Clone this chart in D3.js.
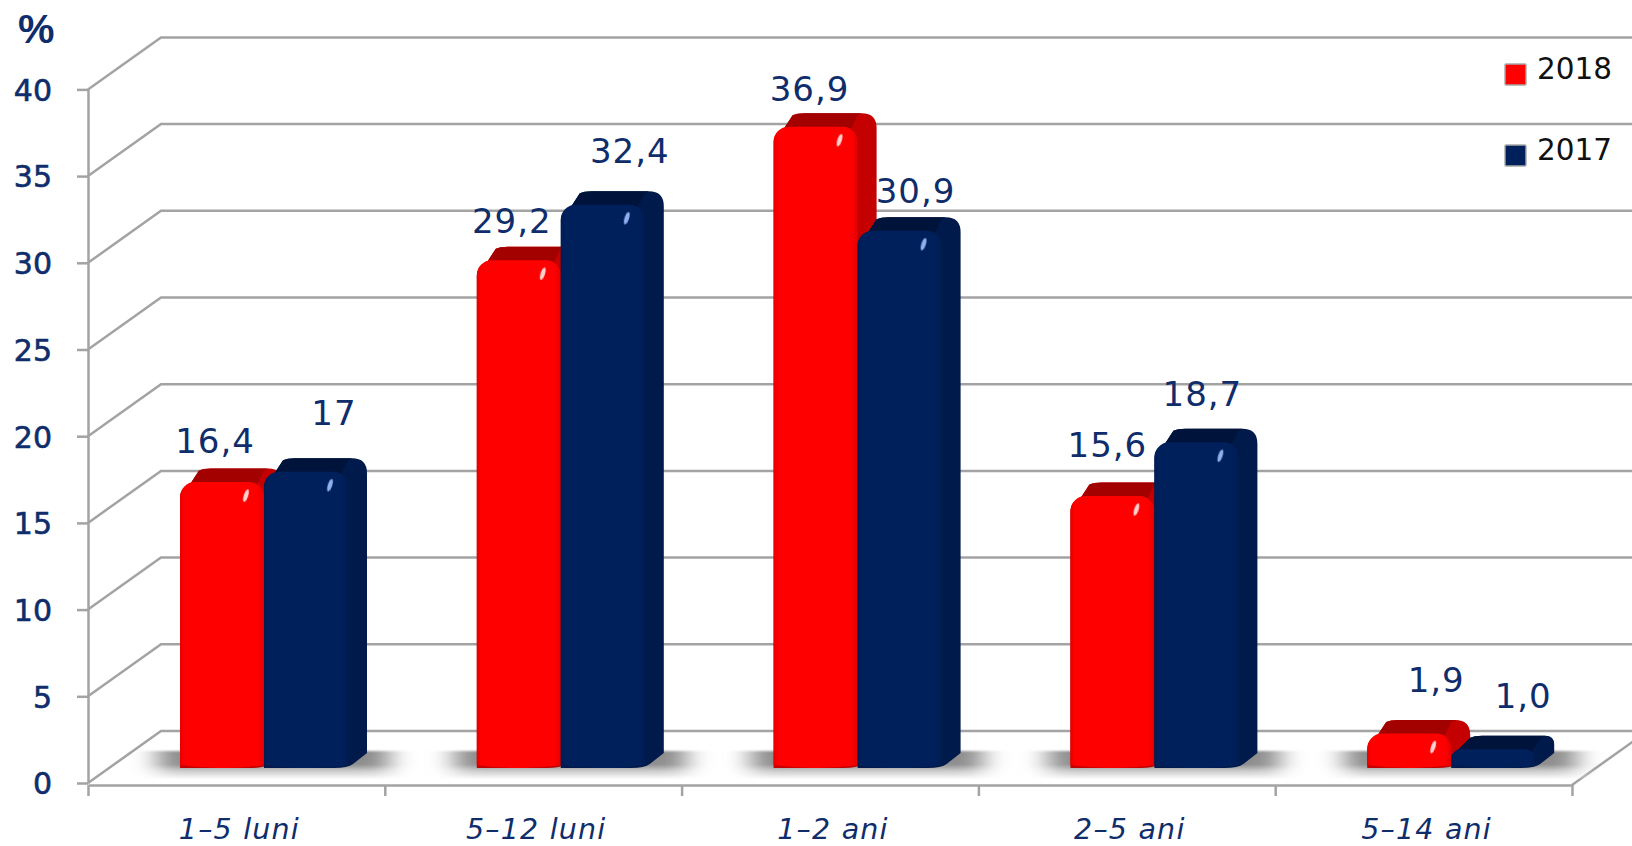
<!DOCTYPE html>
<html>
<head>
<meta charset="utf-8">
<script src="https://d3js.org/d3.v7.min.js"></script>
<style>
html, body { margin: 0; padding: 0; background: #fff; overflow: hidden; }
text { font-family: "DejaVu Sans", sans-serif; }
</style>
</head>
<body>
<script>
var categories = ["1–5 luni", "5–12 luni", "1–2 ani", "2–5 ani", "5–14 ani"];
var series = ["2018", "2017"];
var values2018 = [16.4, 29.2, 36.9, 15.6, 1.9];
var values2017 = [17, 32.4, 30.9, 18.7, 1.0];
var labels2018 = ["16,4", "29,2", "36,9", "15,6", "1,9"];
var labels2017 = ["17", "32,4", "30,9", "18,7", "1,0"];
var yTicks = [0, 5, 10, 15, 20, 25, 30, 35, 40];

// hand placed labels in the original, offset from the bar's back top edge
var nudge2018 = [[-7, -16], [-7, -14], [-6, -12], [-5, -25], [27, -28]];
var nudge2017 = [[28, -33], [27, -28], [16, -14], [6, -23], [30, -28]];

var w = 1632;
var h = 846;
var navy = "#0f2d6b";
var gridColor = "#a3a3a3";
var wallX = 73, wallY = 52;      // depth of the box
var barDX = 19, barDY = 15;      // depth of a bar
var liftY = 15;                  // bars stand this far into the floor

var colors = {
  "2018": { front: "#ff0000", edge: "#e40000", side: "#c40000", top: "#a30000", shine: "#ffd0d0" },
  "2017": { front: "#00205c", edge: "#001c52", side: "#001a4c", top: "#00133b", shine: "#8fb0ee" }
};

var svg = d3.select("body").append("svg")
    .attr("width", w)
    .attr("height", h)
    .style("display", "block");

var defs = svg.append("defs");
defs.append("filter").attr("id", "blur")
    .attr("x", "-30%").attr("y", "-30%").attr("width", "160%").attr("height", "160%")
  .append("feGaussianBlur").attr("stdDeviation", "13 1.2");
defs.append("filter").attr("id", "soft")
    .attr("x", "-100%").attr("y", "-50%").attr("width", "300%").attr("height", "200%")
  .append("feGaussianBlur").attr("stdDeviation", "0.6");

var shadowGrad = defs.append("linearGradient").attr("id", "shadow")
    .attr("x1", 0).attr("y1", 0).attr("x2", 0).attr("y2", 1);
shadowGrad.selectAll("stop")
    .data([[0, "#8a8a8a"], [0.5, "#8f8f8f"], [0.72, "#c8c8c8"], [1, "#f6f6f6"]])
    .enter().append("stop")
    .attr("offset", function(d) { return d[0]; })
    .attr("stop-color", function(d) { return d[1]; });

series.forEach(function(key) {
  var g = defs.append("linearGradient").attr("id", "front" + key);
  g.selectAll("stop")
      .data([[0, colors[key].edge], [0.05, colors[key].front], [0.92, colors[key].front], [1, colors[key].edge]])
      .enter().append("stop")
      .attr("offset", function(d) { return d[0]; })
      .attr("stop-color", function(d) { return d[1]; });
});

var y = d3.scaleLinear().domain([0, 40]).range([783, 89.4]);
var x0 = d3.scaleBand().domain(categories).range([88, 1572]);
var x1 = d3.scaleBand().domain(series).range([92, 260]);
var edges = d3.scaleLinear().domain([0, categories.length]).range([88, 1572]);

// walls
var grid = svg.append("g")
    .attr("fill", "none")
    .attr("stroke", gridColor)
    .attr("stroke-width", 2.5);

grid.selectAll("path.wall")
    .data(yTicks)
    .enter()
    .append("path")
    .attr("class", "wall")
    .attr("d", function(d) {
      return "M" + 88 + "," + y(d) + "L" + (88 + wallX) + "," + (y(d) - wallY) + "L" + w + "," + (y(d) - wallY);
    });

grid.append("path")
    .attr("d", "M" + edges(5) + "," + (y(0) + 2) + "L" + (edges(5) + wallX) + "," + (y(0) + 2 - wallY));

// axes
var yAxis = svg.append("g")
    .attr("transform", "translate(88,0)")
    .call(d3.axisLeft(y).tickValues(yTicks).tickSizeInner(11).tickSizeOuter(0).tickPadding(25));
yAxis.selectAll("line").attr("stroke", gridColor).attr("stroke-width", 2.5);
yAxis.select(".domain").attr("stroke", gridColor).attr("stroke-width", 2.5);
yAxis.selectAll("text")
    .attr("fill", navy)
    .attr("stroke", navy)
    .attr("stroke-width", 0.6)
    .attr("dy", ".36em")
    .attr("font-size", 30)
    .style("font-family", '"DejaVu Sans", sans-serif');

var xAxis = svg.append("g")
    .attr("transform", "translate(0," + (y(0) + 2) + ")")
    .call(d3.axisBottom(edges).tickValues(d3.range(0, categories.length + 1)).tickSizeInner(11).tickSizeOuter(0).tickFormat(""));
xAxis.selectAll("line").attr("stroke", gridColor).attr("stroke-width", 2.5);
xAxis.select(".domain").attr("stroke", gridColor).attr("stroke-width", 2.5);

svg.selectAll("text.cat")
    .data(categories)
    .enter()
    .append("text")
    .attr("class", "cat")
    .text(function(d) { return d; })
    .attr("x", function(d) { return x0(d) + x0.bandwidth() / 2 + 3; })
    .attr("y", 839)
    .attr("text-anchor", "middle")
    .attr("font-size", 28.5)
    .attr("letter-spacing", 1.2)
    .attr("font-style", "italic")
    .attr("fill", navy);

svg.append("text")
    .text("%")
    .attr("x", 18)
    .attr("y", 43)
    .attr("font-size", 41)
    .attr("font-weight", "bold")
    .attr("fill", navy)
    .style("font-family", '"Liberation Sans", sans-serif');

// floor shadows
svg.selectAll("rect.shadow")
    .data(categories)
    .enter()
    .append("rect")
    .attr("class", "shadow")
    .attr("x", function(d) { return x0(d) + x1.range()[0] - 22; })
    .attr("y", y(0) - 32)
    .attr("width", x1.range()[1] - x1.range()[0] + barDX + 44)
    .attr("height", 27)
    .attr("fill", "url(#shadow)")
    .attr("filter", "url(#blur)");

// one rounded 3d bar
function drawBar(g, key, v, cat, label, nudge) {
  var c = colors[key];
  var bw = x1.bandwidth();
  var left = x0(cat) + x1(key);
  var right = left + bw;
  var base = y(0) - liftY;
  var top = y(v) - liftY;
  var r = Math.min(15, (base - top) * 0.55);
  var rb = Math.min(15, (base - top) * 0.5);
  var frontTop = top - 1.5;
  var arc = "A" + r + "," + r + " 0 0 1 ";

  var outline = "M" + left + "," + (frontTop + r)
      + arc + (left + r * 0.7) + "," + (frontTop + r * 0.1)
      + "L" + (left + barDX) + "," + (top - barDY + 2)
      + "Q" + (left + barDX + 4) + "," + (top - barDY) + " " + (left + barDX + 12) + "," + (top - barDY)
      + "L" + (right + barDX - rb) + "," + (top - barDY)
      + "Q" + (right + barDX) + "," + (top - barDY) + " " + (right + barDX) + "," + (top - barDY + rb)
      + "L" + (right + barDX) + "," + (base - barDY)
      + "L" + (right + 5) + "," + (base - 4)
      + "Q" + right + "," + base + " " + (right - 14) + "," + base
      + "L" + left + "," + base + "Z";
  g.append("path").attr("d", outline).attr("fill", c.side);

  var topFace = "M" + (left + r * 0.7) + "," + (frontTop + r * 0.1)
      + "L" + (left + barDX) + "," + (top - barDY + 2)
      + "Q" + (left + barDX + 4) + "," + (top - barDY) + " " + (left + barDX + 12) + "," + (top - barDY)
      + "L" + (right + barDX - rb) + "," + (top - barDY)
      + "L" + (right + barDX - rb - 4) + "," + (top - barDY + 2)
      + "L" + (right - r * 0.5) + "," + (top + 2)
      + "Z";
  g.append("path").attr("d", topFace).attr("fill", c.top);

  var front = "M" + left + "," + (base - 3)
      + "L" + left + "," + (frontTop + r)
      + arc + (left + r) + "," + frontTop
      + "L" + (right - r) + "," + frontTop
      + arc + right + "," + (frontTop + r)
      + "L" + right + "," + (base - 3)
      + "Q" + (left + bw * 0.5) + "," + (base + 3) + " " + left + "," + (base - 3) + "Z";
  g.append("path").attr("d", front).attr("fill", "url(#front" + key + ")");

  if (v > 1.5) {
    g.append("ellipse")
        .attr("cx", left + 66)
        .attr("cy", top + 12)
        .attr("rx", 2.2)
        .attr("ry", 6.5)
        .attr("fill", c.shine)
        .attr("filter", "url(#soft)")
        .attr("transform", "rotate(18," + (left + 66) + "," + (top + 12) + ")");
  }

  svg.append("text")
      .attr("class", "value")
      .text(label)
      .attr("x", left + bw / 2 + nudge[0])
      .attr("y", top - barDY + nudge[1])
      .attr("text-anchor", "middle")
      .attr("font-size", 34)
      .attr("letter-spacing", 1)
      .attr("fill", navy);
}

var bars = svg.append("g");
categories.forEach(function(cat, i) {
  drawBar(bars, "2018", values2018[i], cat, labels2018[i], nudge2018[i]);
  drawBar(bars, "2017", values2017[i], cat, labels2017[i], nudge2017[i]);
});

// legend
var legendY = d3.scalePoint().domain(series).range([64, 145]);
svg.selectAll("rect.legend")
    .data(series)
    .enter()
    .append("rect")
    .attr("class", "legend")
    .attr("x", 1505)
    .attr("y", function(d) { return legendY(d); })
    .attr("width", 21)
    .attr("height", 21)
    .attr("rx", 1)
    .attr("fill", function(d) { return colors[d].front; })
    .attr("stroke", "#a8a8a8")
    .attr("stroke-width", 1.4);

svg.selectAll("text.legend")
    .data(series)
    .enter()
    .append("text")
    .attr("class", "legend")
    .text(function(d) { return d; })
    .attr("x", 1537)
    .attr("y", function(d) { return legendY(d) + 15; })
    .attr("font-size", 29.5)
    .attr("fill", "#111");
</script>
</body>
</html>
